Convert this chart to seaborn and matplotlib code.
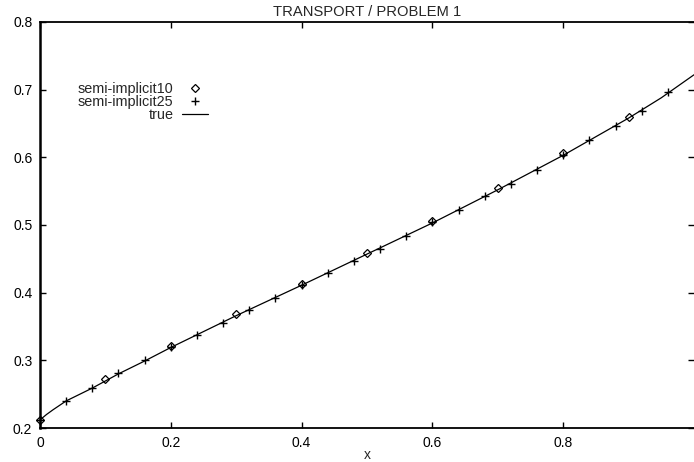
import matplotlib
matplotlib.use("Agg")
import matplotlib.pyplot as plt
from matplotlib.lines import Line2D
import seaborn as sns
import pandas as pd

# Exact solution of the transport problem
x_true = [0.0, 0.01, 0.02, 0.04, 0.08, 0.12, 0.16, 0.20, 0.30, 0.40,
          0.50, 0.60, 0.70, 0.80, 0.90, 0.95, 1.00]
y_true = [0.212, 0.220, 0.227, 0.240, 0.259, 0.280, 0.299, 0.319, 0.366, 0.411,
          0.457, 0.503, 0.552, 0.603, 0.658, 0.688, 0.722]

# Semi-implicit scheme, 10 intervals
x_si10 = [0.0, 0.1, 0.2, 0.3, 0.4, 0.5, 0.6, 0.7, 0.8, 0.9]
y_si10 = [0.212, 0.272, 0.321, 0.368, 0.413, 0.459, 0.506, 0.554, 0.606, 0.660]

# Semi-implicit scheme, 25 intervals
x_si25 = [0.00, 0.04, 0.08, 0.12, 0.16, 0.20, 0.24, 0.28, 0.32, 0.36, 0.40, 0.44,
          0.48, 0.52, 0.56, 0.60, 0.64, 0.68, 0.72, 0.76, 0.80, 0.84, 0.88, 0.92, 0.96]
y_si25 = [0.212, 0.240, 0.2595, 0.281, 0.300, 0.320, 0.338, 0.355, 0.374, 0.392,
          0.412, 0.4285, 0.447, 0.465, 0.484, 0.504, 0.522, 0.543, 0.561, 0.581,
          0.603, 0.625, 0.647, 0.669, 0.696]

x_ticks = [0.0, 0.2, 0.4, 0.6, 0.8]
x_tick_labels = ["0", "0.2", "0.4", "0.6", "0.8"]
y_ticks = [0.2, 0.3, 0.4, 0.5, 0.6, 0.7, 0.8]
y_tick_labels = ["0.2", "0.3", "0.4", "0.5", "0.6", "0.7", "0.8"]

sns.set_theme(style="ticks")
plt.rcParams["font.family"] = ["Liberation Sans", "DejaVu Sans"]

fig = plt.figure(figsize=(6.94, 4.62), dpi=100)
ax = fig.add_axes([40 / 694, 34 / 462, 654 / 694, 406 / 462])

df_true = pd.DataFrame({"x": x_true, "y": y_true})
df10 = pd.DataFrame({"x": x_si10, "y": y_si10})
df25 = pd.DataFrame({"x": x_si25, "y": y_si25})

sns.lineplot(data=df_true, x="x", y="y", ax=ax, color="black", linewidth=0.9,
             sort=True, estimator=None)
sns.lineplot(data=df10, x="x", y="y", ax=ax, estimator=None, linestyle="",
             marker="D", markersize=4.4, markerfacecolor="none",
             markeredgecolor="black", markeredgewidth=0.9, color="black",
             clip_on=False)
sns.lineplot(data=df25, x="x", y="y", ax=ax, estimator=None, linestyle="",
             marker="+", markersize=5.5, markeredgewidth=1.0,
             markeredgecolor="black", color="black", clip_on=False)

ax.set_xlim(0, 1.0)
ax.set_ylim(0.2, 0.8)
ax.set_xticks(x_ticks)
ax.set_xticklabels(x_tick_labels)
ax.set_yticks(y_ticks)
ax.set_yticklabels(y_tick_labels)
ax.set_xlabel("x", fontsize=10, labelpad=-2)
ax.set_ylabel("")
ax.set_title("TRANSPORT / PROBLEM 1", fontsize=10.6, pad=4)

ax.tick_params(axis="both", which="both", direction="in", length=4, width=1,
               labelsize=10, top=True, right=True, colors="black", pad=6)
ax.tick_params(axis="y", pad=5.5)
ax.spines["left"].set_linewidth(1.8)
for side in ("top", "bottom"):
    ax.spines[side].set_linewidth(1.3)
ax.spines["right"].set_visible(False)
for s in ax.spines.values():
    s.set_color("black")

handles = [
    Line2D([], [], linestyle="", marker="D", markersize=4.4, markerfacecolor="none",
           markeredgecolor="black", markeredgewidth=0.9),
    Line2D([], [], linestyle="", marker="+", markersize=5.5, markeredgewidth=1.0,
           color="black"),
    Line2D([], [], color="black", linewidth=0.9),
]
labels = ["semi-implicit10", "semi-implicit25", "true"]
ax.legend(handles, labels, loc="upper right", bbox_to_anchor=(0.257, 0.851),
          markerfirst=False, frameon=False, fontsize=10.4, handlelength=1.8,
          handletextpad=0.6, labelspacing=-0.1, borderpad=0, borderaxespad=0)

fig.savefig("out.png", dpi=100, facecolor="white")
